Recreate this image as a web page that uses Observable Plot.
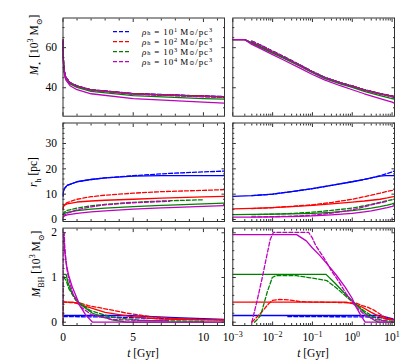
<!DOCTYPE html>
<html><head><meta charset="utf-8">
<script src="https://cdn.jsdelivr.net/npm/d3@7"></script>
<script src="https://cdn.jsdelivr.net/npm/@observablehq/plot@0.6"></script>
<style>
body{margin:0;background:#fff;}
#fig{position:relative;width:415px;height:363px;overflow:hidden;font-family:"Liberation Serif","DejaVu Serif",serif;color:#000;background:#fff;}
#fig svg.panel{position:absolute;left:0;top:0;}
.lab{position:absolute;white-space:nowrap;font-size:11.5px;line-height:1;}
.lab sub,.lab sup{font-size:70%;line-height:0;}
.ylab{transform:translate(-50%,-50%) rotate(-90deg);}
.xlab{transform:translate(-50%,-50%);}
.leg{transform:translateY(-50%);font-size:9px;line-height:9px;height:9px;letter-spacing:0.85px;}
.leg sub{vertical-align:-0.5px;font-size:6.3px;}
.leg sup{vertical-align:2.2px;font-size:6.3px;}
</style></head><body><div id="fig"></div>
<script>
// ---------------- data ----------------
const densities = ["1", "2", "3", "4"]; // rho_h = 10^k Msun/pc^3
const colorNames = ["blue", "red", "green", "magenta"];
const colorValues = ["#0000ff", "#ff0000", "#008000", "#bf00bf"];

// Stellar mass M* [10^3 Msun]
const tMstar = [0.001, 0.002, 0.003, 0.005, 0.01, 0.02, 0.05, 0.1, 0.2, 0.5, 1, 2, 5, 10, 11.5];
const mstarBlueSolid    = [64.0, 64.0, 62.4, 60.4, 57.7, 54.9, 51.0, 47.9, 45.1, 42.4, 40.8, 38.9, 37.0, 35.8, 35.5];
const mstarRedSolid     = [64.0, 64.0, 62.3, 60.3, 57.6, 54.8, 50.9, 47.8, 45.0, 42.3, 40.7, 38.8, 36.9, 35.7, 35.4];
const mstarGreenSolid   = [64.0, 64.0, 62.2, 60.1, 57.3, 54.5, 50.6, 47.5, 44.7, 41.9, 40.2, 38.2, 36.1, 34.6, 34.3];
const mstarMagentaSolid = [64.0, 64.0, 61.6, 59.5, 56.5, 53.6, 49.7, 46.6, 43.9, 41.0, 39.0, 37.0, 34.6, 32.8, 32.3];
const mstarBlueDash     = [null, null, 63.3, 61.3, 58.3, 55.4, 51.3, 48.1, 45.3, 42.6, 40.9, 39.0, 37.1, 35.9, 35.6];
const mstarRedDash      = [null, null, 63.2, 61.2, 58.2, 55.3, 51.2, 48.0, 45.2, 42.5, 40.9, 39.0, 37.0, 35.8, 35.5];
const mstarGreenDash    = [null, null, 63.1, 61.1, 58.1, 55.2, 51.1, 48.0, 45.2, 42.5, 40.8, 38.9, 36.9, 35.6, 35.3];
const mstarMagentaDash  = [null, null, 63.0, 61.0, 58.0, 55.1, 51.0, 47.9, 45.1, 42.4, 40.7, 38.8, 36.8, 35.5, 35.2];

// Half-mass radius r_h [pc]
const tRh = [0.001, 0.003, 0.01, 0.03, 0.1, 0.3, 1, 2, 3, 5, 7, 7.6, 10, 11.5];
const rhBlueSolid    = [9.1, 9.4, 10.0, 11.0, 12.2, 13.5, 14.9, 15.8, 16.4, 17.1, 17.3, 17.3, 17.3, 17.3];
const rhRedSolid     = [4.2, 4.4, 4.7, 5.1, 5.6, 6.2, 6.9, 7.3, 7.6, 8.0, 8.4, 8.5, 8.9, 9.1];
const rhGreenSolid   = [1.9, 2.0, 2.1, 2.2, 2.4, 2.8, 3.5, 4.1, 4.5, 5.1, 5.6, 5.7, 6.2, 6.5];
const rhMagentaSolid = [0.9, 0.95, 1.0, 1.15, 1.4, 1.8, 2.4, 3.0, 3.4, 4.1, 4.6, 4.7, 5.2, 5.5];
const rhBlueDash     = [null, 9.4, 10.0, 11.0, 12.2, 13.5, 14.9, 15.8, 16.4, 17.3, 18.0, 18.2, 18.8, 19.1];
const rhRedDash      = [null, 4.3, 4.7, 5.2, 5.8, 6.7, 8.0, 9.0, 9.6, 10.4, 11.0, 11.1, 11.5, 11.8];
const rhGreenDash    = [null, 1.9, 2.1, 2.4, 2.9, 3.6, 4.5, 5.4, 6.0, 6.8, 7.3, 7.4, 7.8, null];
const rhMagentaDash  = [null, 1.0, 1.1, 1.3, 1.7, 2.5, 3.8, 5.0, 5.8, 6.6, 7.1, 7.2, null, null];

// Black-hole mass M_BH [10^3 Msun]
const bhBlueSolidT    = [0.001, 4.5, 6, 8, 10, 11.5];
const bhBlueSolidV    = [0.15, 0.15, 0.13, 0.10, 0.08, 0.06];
const bhBlueDashT     = [0.024, 2, 4, 6, 8, 10, 11.5];
const bhBlueDashV     = [0.125, 0.12, 0.11, 0.09, 0.07, 0.06, 0.05];
const bhRedSolidT     = [0.001, 0.7, 1.2, 1.75, 3, 5, 7, 10, 11.5];
const bhRedSolidV     = [0.45, 0.45, 0.40, 0.34, 0.22, 0.12, 0.07, 0.05, 0.05];
const bhRedDashT      = [0.003, 0.005, 0.0079, 0.01, 0.015, 0.025, 0.05, 0.1, 0.5, 1.2, 1.8, 2.5, 3.5, 4.6, 6.3, 8, 11.5];
const bhRedDashV      = [0.0, 0.2, 0.41, 0.49, 0.51, 0.50, 0.46, 0.45, 0.44, 0.43, 0.37, 0.33, 0.27, 0.20, 0.12, 0.08, 0.05];
const bhGreenSolidT   = [0.001, 0.22, 0.37, 0.67, 1.2, 2.1, 3.5, 4.5, 11.5];
const bhGreenSolidV   = [1.07, 1.07, 0.87, 0.63, 0.41, 0.20, 0.05, 0.0, 0.0];
const bhGreenDashT    = [0.0035, 0.004, 0.005, 0.0073, 0.0098, 0.012, 0.04, 0.11, 0.23, 0.42, 0.9, 1.95, 3.5, 5.6, 8, 10];
const bhGreenDashV    = [0.0, 0.05, 0.15, 0.67, 1.0, 1.04, 1.04, 0.98, 0.93, 0.75, 0.49, 0.26, 0.11, 0.04, 0.03, 0.02];
const bhMagentaSolidT = [0.001, 0.04, 0.07, 0.1, 0.15, 0.25, 0.4, 0.67, 1, 1.2, 1.6, 2.1, 11.5];
const bhMagentaSolidV = [1.96, 1.96, 1.82, 1.66, 1.50, 1.27, 1.05, 0.78, 0.53, 0.37, 0.17, 0.0, 0.0];
const bhMagentaDashT  = [0.003, 0.004, 0.0055, 0.007, 0.0087, 0.0105, 0.08, 0.1, 0.12, 0.2, 0.3, 0.45, 0.7, 1.2, 2, 3.5, 5.5, 7.5];
const bhMagentaDashV  = [0.0, 0.45, 1.0, 1.45, 1.85, 2.01, 2.01, 1.88, 1.72, 1.42, 1.15, 0.92, 0.64, 0.36, 0.17, 0.06, 0.04, 0.03];

// ticks
const xTicksLin = [0, 5, 10];
const xMinorLin = [1, 2, 3, 4, 6, 7, 8, 9, 11];
const xTicksLog = [1e-3, 1e-2, 1e-1, 1, 10];
const xMinorLog = [2e-3,3e-3,4e-3,5e-3,6e-3,7e-3,8e-3,9e-3, 2e-2,3e-2,4e-2,5e-2,6e-2,7e-2,8e-2,9e-2, 0.2,0.3,0.4,0.5,0.6,0.7,0.8,0.9, 2,3,4,5,6,7,8,9];
const yTicksMstar = [40, 60];
const yMinorMstar = [30, 35, 45, 50, 55, 65, 70];
const yTicksRh = [0, 10, 20, 30];
const yMinorRh = [2, 4, 6, 8, 12, 14, 16, 18, 22, 24, 26, 28, 32, 34, 36, 38];
const yTicksBh = [0, 1, 2];
const yMinorBh = [0.2, 0.4, 0.6, 0.8, 1.2, 1.4, 1.6, 1.8];

// ---------------- layout ----------------
const W = 415, H = 363;
const cols = [{x0: 62.5, x1: 224}, {x0: 232.3, x1: 394}];
const rows = [{y0: 17.5, y1: 115.7}, {y0: 122.5, y1: 221}, {y0: 227.6, y1: 325}];
const frameColor = "#333";
const fig = document.getElementById("fig");

function zip(t, v) {
  const out = [];
  for (let i = 0; i < t.length; i++) if (v[i] != null) out.push({t: t[i], v: v[i]});
  return out;
}

const mstarSeries = [
  [mstarBlueSolid, mstarBlueDash], [mstarRedSolid, mstarRedDash],
  [mstarGreenSolid, mstarGreenDash], [mstarMagentaSolid, mstarMagentaDash]
].map(([s, d], i) => [{data: zip(tMstar, s), color: colorValues[i], dash: false}, {data: zip(tMstar, d), color: colorValues[i], dash: true}]).flat();
const rhSeries = [
  [rhBlueSolid, rhBlueDash], [rhRedSolid, rhRedDash],
  [rhGreenSolid, rhGreenDash], [rhMagentaSolid, rhMagentaDash]
].map(([s, d], i) => [{data: zip(tRh, s), color: colorValues[i], dash: false}, {data: zip(tRh, d), color: colorValues[i], dash: true}]).flat();
const bhSeries = [
  [bhBlueSolidT, bhBlueSolidV, bhBlueDashT, bhBlueDashV],
  [bhRedSolidT, bhRedSolidV, bhRedDashT, bhRedDashV],
  [bhGreenSolidT, bhGreenSolidV, bhGreenDashT, bhGreenDashV],
  [bhMagentaSolidT, bhMagentaSolidV, bhMagentaDashT, bhMagentaDashV]
].map(([ts, vs, td, vd], i) => [{data: zip(ts, vs), color: colorValues[i], dash: false}, {data: zip(td, vd), color: colorValues[i], dash: true}]).flat();

function supFormat(d) { return "10^" + Math.round(Math.log10(d)); }

function makePanel(row, col, yDomain, yMajor, yMinor, series) {
  const c = cols[col], r = rows[row];
  const xMajor = col === 0 ? xTicksLin : xTicksLog;
  const xMinor = col === 0 ? xMinorLin : xMinorLog;
  const marks = [];
  for (const s of series) {
    const o = {x: "t", y: "v", stroke: s.color, strokeWidth: 1.3, clip: true};
    if (s.dash) o.strokeDasharray = "4,2";
    marks.push(Plot.line(s.data, o));
  }
  marks.push(Plot.frame({stroke: frameColor, strokeWidth: 1}));
  for (const a of ["top", "bottom"]) {
    marks.push(Plot.axisX({anchor: a, ticks: xMajor, tickSize: -3.5, fill: "none", stroke: frameColor, label: null}));
    marks.push(Plot.axisX({anchor: a, ticks: xMinor, tickSize: -2, fill: "none", stroke: frameColor, label: null}));
  }
  for (const a of ["left", "right"]) {
    marks.push(Plot.axisY({anchor: a, ticks: yMajor, tickSize: -3.5, fill: "none", stroke: frameColor, label: null}));
    marks.push(Plot.axisY({anchor: a, ticks: yMinor, tickSize: -2, fill: "none", stroke: frameColor, label: null}));
  }
  if (col === 0) marks.push(Plot.axisY({anchor: "left", ticks: yMajor, tickSize: 0, tickPadding: 6, label: null, tickFormat: d => String(d)}));
  if (row === 2) marks.push(Plot.axisX({anchor: "bottom", ticks: xMajor, tickSize: 0, tickPadding: 7, label: null,
    tickFormat: col === 0 ? (d => String(d)) : supFormat}));
  const svg = Plot.plot({
    width: W, height: H,
    marginLeft: c.x0, marginRight: W - c.x1, marginTop: r.y0, marginBottom: H - r.y1,
    x: col === 0 ? {type: "linear", domain: [0, 11.5], axis: null, label: null}
                 : {type: "log", domain: [1e-3, 11.5], axis: null, label: null},
    y: {type: "linear", domain: yDomain, axis: null, label: null},
    style: {background: "transparent", overflow: "visible", fontFamily: '"Liberation Serif","DejaVu Serif",serif', fontSize: "11.5px", color: "#000"},
    marks
  });
  svg.classList.add("panel");
  // superscript exponents for log tick labels
  if (col === 1 && row === 2) {
    svg.querySelectorAll('g[aria-label="x-axis tick label"] text').forEach(t => {
      const m = /^10\^(-?\d+)$/.exec(t.textContent);
      if (!m) return;
      t.textContent = "10";
      const ts = document.createElementNS("http://www.w3.org/2000/svg", "tspan");
      ts.setAttribute("dy", "-0.45em");
      ts.setAttribute("font-size", "8px");
      ts.textContent = m[1].replace("-", "\u2212");
      t.appendChild(ts);
    });
  }
  fig.appendChild(svg);
}

const yDomMstar = [25.8, 74.8];
const yDomRh = [-0.79, 38.1];
const yDomBh = [-0.074, 2.105];
for (const col of [0, 1]) {
  makePanel(0, col, yDomMstar, yTicksMstar, yMinorMstar, mstarSeries);
  makePanel(1, col, yDomRh, yTicksRh, yMinorRh, rhSeries);
  makePanel(2, col, yDomBh, yTicksBh, yMinorBh, bhSeries);
}

// ---------------- labels ----------------
function addLabel(html, cls, x, y) {
  const d = document.createElement("div");
  d.className = "lab " + cls;
  d.style.left = x + "px";
  d.style.top = y + "px";
  d.innerHTML = html;
  fig.appendChild(d);
}
addLabel('<i>M</i><sub>\u22c6</sub> [10<sup>3</sup> M<sub>\u2299</sub>]', "ylab", 35, 45);
addLabel('<i>r</i><sub>h</sub> [pc]', "ylab", 34, 172);
addLabel('<i>M</i><sub>BH</sub> [10<sup>3</sup> M<sub>\u2299</sub>]', "ylab", 37, 264);
addLabel('<i>t</i> [Gyr]', "xlab", 143, 354);
addLabel('<i>t</i> [Gyr]', "xlab", 313, 354);

// legend
const legSvg = d3.create("svg").attr("width", W).attr("height", H)
  .style("position", "absolute").style("left", "0px").style("top", "0px");
densities.forEach((k, i) => {
  const y = 31.7 + 10 * i;
  legSvg.append("line").attr("x1", 113).attr("x2", 131).attr("y1", y).attr("y2", y)
    .attr("stroke", colorValues[i]).attr("stroke-width", 1.3).attr("stroke-dasharray", "4,2");
  addLabel('<i>\u03c1</i><sub>h</sub>&#8197;=&#8197;10<sup>' + k + '</sup>&#8198;M<sub>\u2299</sub>/pc<sup>3</sup>', "leg", 142, y + 0.5);
});
fig.appendChild(legSvg.node());
</script></body></html>
